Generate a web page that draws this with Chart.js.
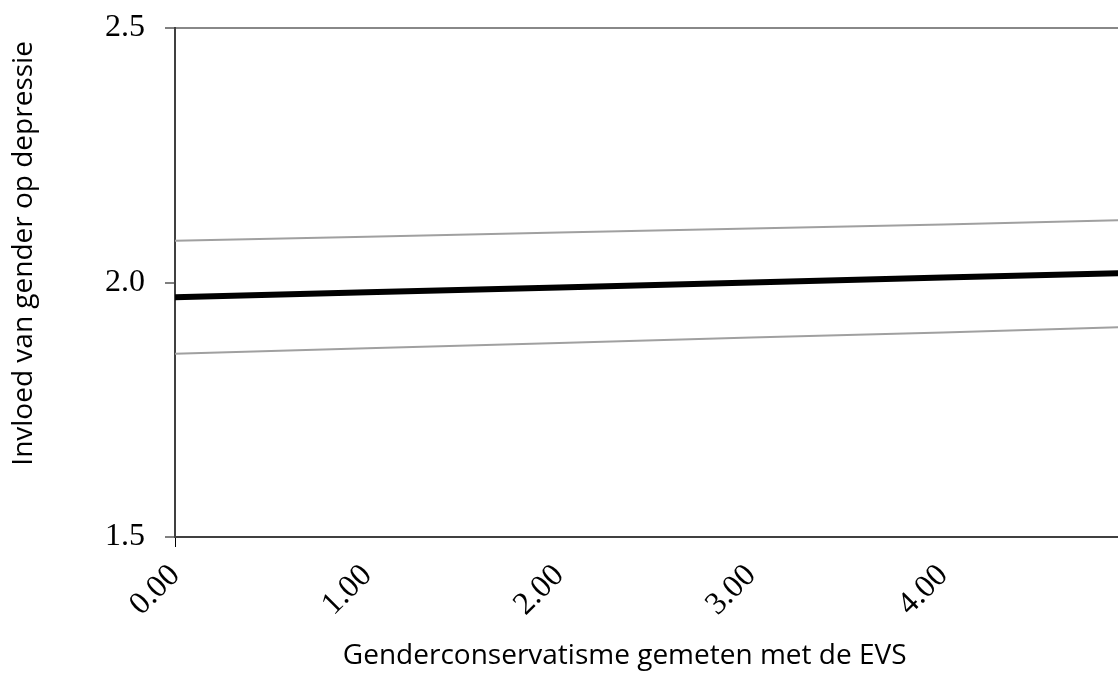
<!DOCTYPE html>
<html lang="nl">
<head>
    <meta charset="UTF-8">
    <title>Invloed van gender op depressie</title>
    <style>
        body {
            margin: 0;
            background: #fff;
        }
        #chart-box {
            width: 1118px;
            height: 673px;
        }
    </style>
</head>
<body>
    <div id="chart-box"><canvas id="effectChart"></canvas></div>

    <script src="https://cdn.jsdelivr.net/npm/chart.js"></script>
    <script>
        // values
        const xValues = [0, 1, 2, 3, 4, 5];
        const upperBound = [2.082, 2.090, 2.098, 2.106, 2.114, 2.123];
        const effect = [1.971, 1.981, 1.990, 2.000, 2.010, 2.019];
        const lowerBound = [1.860, 1.871, 1.881, 1.892, 1.902, 1.913];
        const yTicks = [1.5, 2.0, 2.5];

        const toPoints = vals => vals.map((v, i) => ({ x: xValues[i], y: v }));

        const serif = 'Liberation Serif';
        const sans = 'Open Sans';
        const pad = n => '\u00a0'.repeat(n);   // nudges the titles off-centre like the original

        new Chart(document.getElementById('effectChart'), {
            type: 'line',
            data: {
                datasets: [
                    { data: toPoints(upperBound), borderColor: '#a0a0a0', borderWidth: 2 },
                    { data: toPoints(lowerBound), borderColor: '#a0a0a0', borderWidth: 2 },
                    { data: toPoints(effect), borderColor: '#000', borderWidth: 6 }
                ]
            },
            options: {
                responsive: true,
                maintainAspectRatio: false,
                animation: false,
                layout: { padding: { top: 27, right: 0, left: 0, bottom: 0 } },
                elements: {
                    point: { radius: 0 },
                    line: { tension: 0, borderCapStyle: 'butt' }
                },
                plugins: {
                    legend: { display: false },
                    tooltip: { enabled: false }
                },
                scales: {
                    x: {
                        type: 'linear',
                        min: 0,
                        max: 4.91,
                        afterFit: scale => { scale.height = 136; },
                        border: { color: '#404040', width: 2 },
                        grid: {
                            drawOnChartArea: false,
                            tickLength: 10,
                            tickColor: ctx => ctx.tick && ctx.tick.value === 0 ? '#000' : 'transparent'
                        },
                        ticks: {
                            stepSize: 1,
                            includeBounds: false,
                            minRotation: 45,
                            maxRotation: 45,
                            padding: 10,
                            color: '#000',
                            font: { family: serif, size: 32 },
                            callback: v => Number(v).toFixed(2)
                        },
                        title: {
                            display: true,
                            text: 'Genderconservatisme gemeten met de EVS' + pad(6),
                            color: '#000',
                            font: { family: sans, size: 28 },
                            padding: { top: 0, bottom: 0 }
                        }
                    },
                    y: {
                        min: 1.5,
                        max: 2.5,
                        afterFit: scale => { scale.width = 175; },
                        afterBuildTicks: scale => {
                            scale.ticks = yTicks.map(v => ({ value: v }));
                        },
                        border: { color: '#404040', width: 2 },
                        grid: {
                            color: ctx => ctx.tick && ctx.tick.value === 2.5 ? '#888' : 'transparent',
                            lineWidth: 2,
                            tickLength: 10,
                            tickColor: '#000',
                            tickWidth: 1
                        },
                        ticks: {
                            padding: 20,
                            color: '#000',
                            font: { family: serif, size: 32, lineHeight: 0.5 },
                            callback: v => Number(v).toFixed(1)
                        },
                        title: {
                            display: true,
                            text: pad(8) + 'Invloed van gender op depressie',
                            color: '#000',
                            font: { family: sans, size: 28 },
                            padding: { top: 7, bottom: 0 }
                        }
                    }
                }
            }
        });
    </script>
</body>
</html>
